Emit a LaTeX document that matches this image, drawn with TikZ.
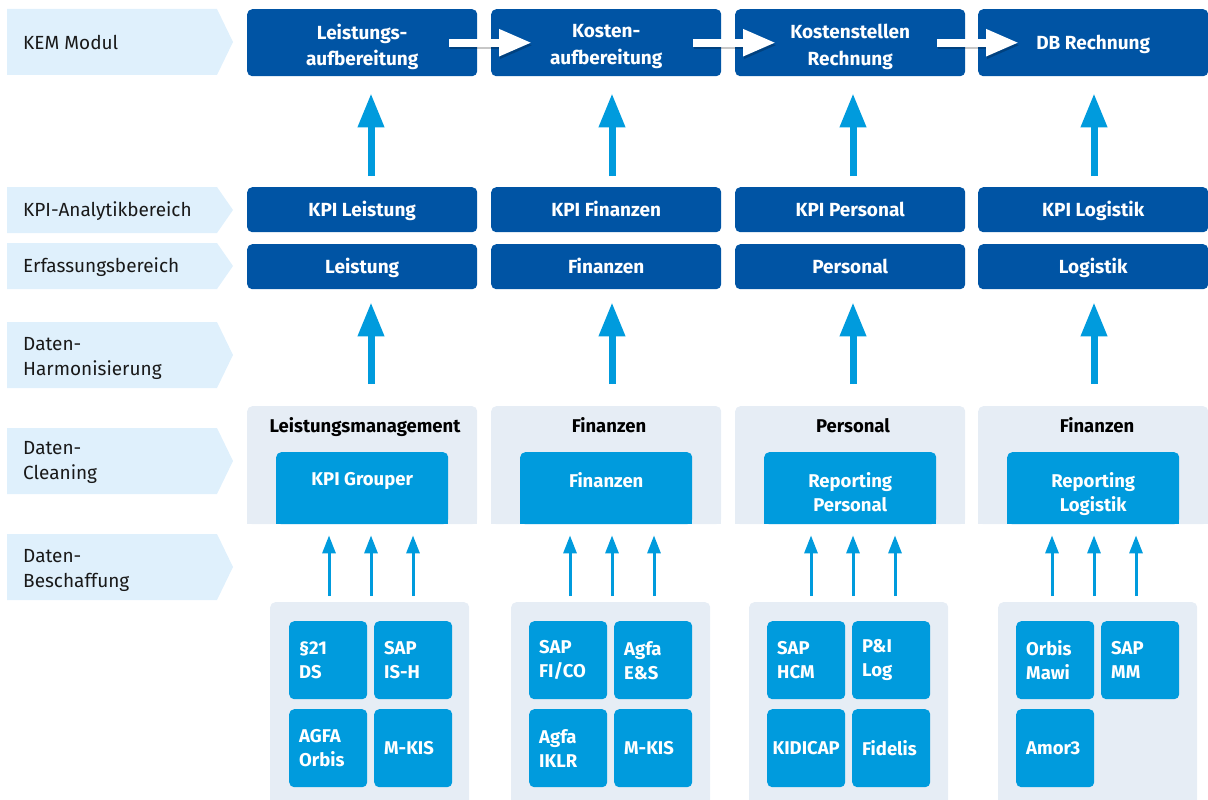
\documentclass[tikz,border=0pt]{standalone}
\usepackage{fontspec}
\setmainfont{Fira Sans}
\usetikzlibrary{arrows.meta,calc}
\definecolor{kemblue}{RGB}{0,84,164}
\definecolor{lblue}{RGB}{0,155,221}
\definecolor{labelbg}{RGB}{223,240,252}
\definecolor{panelbg}{RGB}{230,237,245}
\definecolor{txtdark}{RGB}{25,25,25}
\newcommand{\lblfont}{\fontsize{19}{25}\selectfont}
\newcommand{\boxfont}{\bfseries\fontsize{19}{26.5}\selectfont}
\newcommand{\srcfont}{\bfseries\fontsize{18.5}{24}\selectfont}
\newcommand{\mychevron}[2]{\fill[labelbg] (7,#1) -- (217,#1) -- (233,{(#1+#2)/2}) -- (217,#2) -- (7,#2) -- cycle;}
\begin{document}
\begin{tikzpicture}[x=1pt,y=-1pt,
  lbl/.style={anchor=west,align=left,inner sep=0pt,font=\lblfont,text=txtdark},
  darkbox/.style={fill=kemblue,rounded corners=5pt,minimum width=230pt,anchor=north west,inner sep=0pt},
  boxtext/.style={text=white,font=\boxfont,align=center,inner sep=0pt},
  onetext/.style={boxtext,text height=13pt,text depth=4pt},
  panel/.style={fill=panelbg,rounded corners=5pt,anchor=north west,inner sep=0pt},
  cbox/.style={fill=lblue,rounded corners=5pt,minimum width=172pt,minimum height=72pt,anchor=north west,inner sep=0pt},
  ctext/.style={anchor=north,align=center,text=white,font=\srcfont,inner sep=0pt},
  ptitle/.style={anchor=base,font=\srcfont,text=black,inner sep=0pt},
  srcbox/.style={fill=lblue,rounded corners=5pt,minimum width=78pt,minimum height=78pt,inner xsep=10pt,inner ysep=0pt,text width=58pt,align=left,anchor=north west,font=\srcfont,text=white},
  bigarrow/.style={draw=lblue,line width=7pt,-{Triangle[width=25pt,length=34pt]},fill=lblue},
  smallarrow/.style={draw=lblue,line width=3pt,-{Triangle[width=13pt,length=18pt]},fill=lblue},
  warrow/.style={draw=white,line width=8pt,-{Triangle[width=25pt,length=33pt]},fill=white},
  wshadow/.style={draw=black,line width=8pt,-{Triangle[width=25pt,length=33pt]},fill=black,opacity=0.22}
]
\useasboundingbox (0,0) rectangle (1208,800);
% left labels
\mychevron{9}{75}
\mychevron{187}{233}
\mychevron{243}{289}
\mychevron{322}{388}
\mychevron{428}{494}
\mychevron{534}{600}
\node[lbl] (l1) at (23,42) {KEM Modul};
\node[lbl] (l2) at (23,211) {KPI-Analytikbereich};
\node[lbl] (l3) at (23,267) {Erfassungsbereich};
\node[lbl] (l4) at (23,358) {Daten-\\Harmonisierung};
\node[lbl] (l5) at (23,462) {Daten-\\Cleaning};
\node[lbl] (l6) at (23,570) {Daten-\\Beschaffung};
% KEM modules
\node[darkbox,minimum height=67pt] (m1) at (247,9) {};
\node[darkbox,minimum height=67pt] (m2) at (491,9) {};
\node[darkbox,minimum height=67pt] (m3) at (735,9) {};
\node[darkbox,minimum height=67pt] (m4) at (978,9) {};
\node[boxtext] (mt1) at ($(m1.center)+(0,4)$) {Leistungs-\\aufbereitung};
\node[boxtext] (mt2) at ($(m2.center)+(0,4)$) {Kosten-\\aufbereitung};
\node[boxtext] (mt3) at ($(m3.center)+(0,4)$) {Kostenstellen\\Rechnung};
\node[onetext] (mt4) at ($(m4.center)+(0,2)$) {DB Rechnung};
% KPI row
\node[darkbox,minimum height=45pt] (k1) at (247,187) {};
\node[darkbox,minimum height=45pt] (k2) at (491,187) {};
\node[darkbox,minimum height=45pt] (k3) at (735,187) {};
\node[darkbox,minimum height=45pt] (k4) at (978,187) {};
\node[onetext] (kt1) at ($(k1.center)+(0,2)$) {KPI Leistung};
\node[onetext] (kt2) at ($(k2.center)+(0,2)$) {KPI Finanzen};
\node[onetext] (kt3) at ($(k3.center)+(0,2)$) {KPI Personal};
\node[onetext] (kt4) at ($(k4.center)+(0,2)$) {KPI Logistik};
% Erfassung row
\node[darkbox,minimum height=45pt] (e1) at (247,244) {};
\node[darkbox,minimum height=45pt] (e2) at (491,244) {};
\node[darkbox,minimum height=45pt] (e3) at (735,244) {};
\node[darkbox,minimum height=45pt] (e4) at (978,244) {};
\node[onetext] (et1) at ($(e1.center)+(0,2)$) {Leistung};
\node[onetext] (et2) at ($(e2.center)+(0,2)$) {Finanzen};
\node[onetext] (et3) at ($(e3.center)+(0,2)$) {Personal};
\node[onetext] (et4) at ($(e4.center)+(0,2)$) {Logistik};
% cleaning panels
\foreach \i/\x in {1/247,2/491,3/735,4/978}{
  \node[panel,minimum width=230pt,minimum height=118pt] (p\i) at (\x,406) {};
  \fill[panelbg] (\x,470) rectangle ({\x+230},524);
  \node[cbox] (c\i) at ({\x+29},452) {};
  \fill[lblue] ({\x+29},490) rectangle ({\x+201},524);
}
\node[ptitle] (pt1) at (365,432) {Leistungsmanagement};
\node[ptitle] (pt2) at (609,432) {Finanzen};
\node[ptitle] (pt3) at (853,432) {Personal};
\node[ptitle] (pt4) at (1097,432) {Finanzen};
\node[ctext] (ct1) at ($(c1.north)+(0,20)$) {KPI Grouper};
\node[ctext] (ct2) at ($(c2.north)+(0,20)$) {Finanzen};
\node[ctext] (ct3) at ($(c3.north)+(0,20)$) {Reporting\\Personal};
\node[ctext] (ct4) at ($(c4.north)+(0,20)$) {Reporting\\Logistik};
% bottom panels
\node[panel,minimum width=199pt,minimum height=215pt] (b1) at (270,602) {};
\node[panel,minimum width=199pt,minimum height=215pt] (b2) at (511,602) {};
\node[panel,minimum width=199pt,minimum height=215pt] (b3) at (749,602) {};
\node[panel,minimum width=199pt,minimum height=215pt] (b4) at (998,602) {};
% source systems
\node[srcbox] (s11) at (289,621) {§21\\DS};
\node[srcbox] (s12) at (374,621) {SAP\\IS-H};
\node[srcbox] (s13) at (289,709) {AGFA\\Orbis};
\node[srcbox] (s14) at (374,709) {M-KIS};
\node[srcbox] (s21) at (529,621) {SAP\\FI/CO};
\node[srcbox] (s22) at (614,621) {Agfa\\E\&S};
\node[srcbox] (s23) at (529,709) {Agfa\\IKLR};
\node[srcbox] (s24) at (614,709) {M-KIS};
\node[srcbox] (s31) at (767,621) {SAP\\HCM};
\node[srcbox] (s32) at (852,621) {P\&I\\Log};
\node[srcbox,inner xsep=3pt,text width=72pt,align=center] (s33) at (767,709) {KIDICAP};
\node[srcbox] (s34) at (852,709) {Fidelis};
\node[srcbox] (s41) at (1016,621) {Orbis\\Mawi};
\node[srcbox] (s42) at (1101,621) {SAP\\MM};
\node[srcbox] (s43) at (1016,709) {Amor3};
% arrow columns
\coordinate (ax1) at (371,0);
\coordinate (ax2) at (612,0);
\coordinate (ax3) at (853,0);
\coordinate (ax4) at (1094,0);
\foreach \i in {1,2,3,4}{
  \draw[bigarrow,shorten <=11pt,shorten >=17pt] (k\i.north -| ax\i) -- (m\i.south -| ax\i);
  \draw[bigarrow,shorten <=22pt,shorten >=13pt] (p\i.north -| ax\i) -- (e\i.south -| ax\i);
}
\foreach \i/\x in {1/371,2/612,3/853,4/1094}{
  \foreach \d [count=\j] in {-42,0,42}{
    \coordinate (sx\i\j) at ({\x+\d},0);
    \draw[smallarrow,shorten <=6pt,shorten >=11pt] (b\i.north -| sx\i\j) -- (c\i.south -| sx\i\j);
  }
}
% white process arrows
\foreach \a/\b in {m1/m2,m2/m3,m3/m4}{
  \draw[wshadow] ($(\a.east)+(-27,2.5)$) -- ($(\b.west)+(42,2.5)$);
  \draw[warrow] ($(\a.east)+(-28,0)$) -- ($(\b.west)+(41,0)$);
}
\end{tikzpicture}
\end{document}
